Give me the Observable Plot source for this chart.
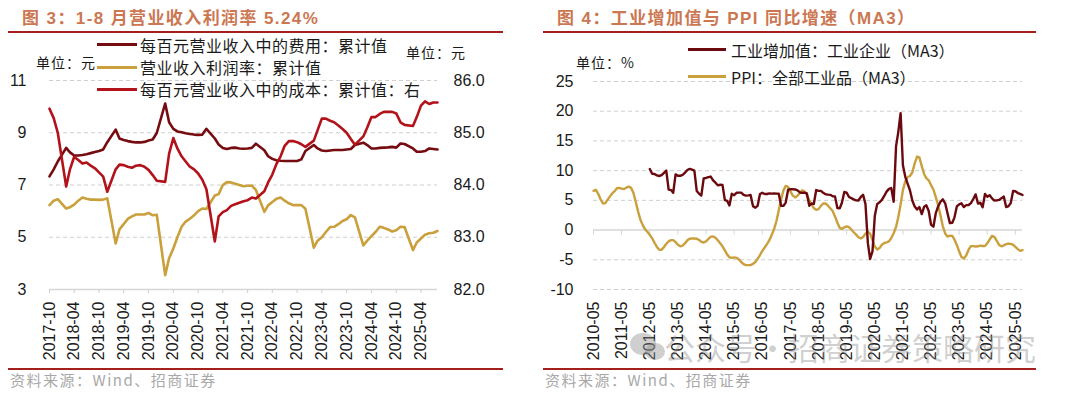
<!DOCTYPE html>
<html>
<head>
<meta charset="utf-8">
<script src="https://cdn.jsdelivr.net/npm/d3@7"></script>
<script src="https://cdn.jsdelivr.net/npm/@observablehq/plot@0.6"></script>
<style>
html,body{margin:0;padding:0;background:#fff;}
#page{position:relative;width:1080px;height:395px;overflow:hidden;background:#fff;}
.a{position:absolute;white-space:nowrap;}
.title{font-family:"Liberation Sans","Noto Sans CJK SC",sans-serif;font-weight:bold;font-size:17px;letter-spacing:1.4px;color:#CB7752;line-height:22px;}
.rule{position:absolute;height:2px;background:#A3201D;}
.leg{font-family:"Noto Sans CJK SC",sans-serif;font-size:16px;line-height:20px;color:#1a1a1a;}
.legL{letter-spacing:0.5px;}
.sw{position:absolute;height:3px;}
.unit{font-family:"Noto Sans CJK SC",sans-serif;font-size:14px;line-height:20px;color:#1a1a1a;letter-spacing:1px;}
.src{font-family:"Noto Sans CJK SC",sans-serif;font-size:15px;line-height:20px;color:#a8a8a8;letter-spacing:1.5px;}
.wm{font-family:"Noto Sans CJK SC",sans-serif;font-size:31px;line-height:40px;color:rgba(140,140,140,0.42);}
.dot{position:absolute;border-radius:50%;background:rgba(140,140,140,0.42);}
</style>
</head>
<body>
<div id="page">
  <div id="chartL" class="a" style="left:0;top:0"></div>
  <div id="chartR" class="a" style="left:540px;top:0"></div>

  <div class="a title" style="left:22px;top:8px">图 3：1-8 月营业收入利润率 5.24%</div>
  <div class="a title" style="left:557px;top:8px">图 4：工业增加值与 PPI 同比增速（MA3）</div>
  <div class="rule" style="left:8px;width:495px;top:31px"></div>
  <div class="rule" style="left:543px;width:493px;top:31px"></div>
  <div class="rule" style="left:8px;width:495px;top:368px"></div>
  <div class="rule" style="left:543px;width:493px;top:368px"></div>

  <div id="legL"></div>
  <div id="legR"></div>

  <div class="a unit" style="left:36px;top:52px">单位：元</div>
  <div class="a unit" style="left:406px;top:42px">单位：元</div>
  <div class="a unit" style="left:576px;top:52px">单位：%</div>

  <div class="a src" style="left:10px;top:370px">资料来源：Wind、招商证券</div>
  <div class="a src" style="left:545px;top:370px">资料来源：Wind、招商证券</div>

  <div class="dot" style="left:630px;top:333px;width:26px;height:22px"></div>
  <div class="dot" style="left:645px;top:343px;width:20px;height:17px"></div>
  <div class="a wm" style="left:664px;top:327px">公众号·招商证券策略研究</div>
</div>
<script>
// ---------- Colors ----------
const cMaroon = "#760B10";
const cRed = "#B2121A";
const cGold = "#C9A03C";
const cIva = "#6A0A0F";

// ---------- Left chart data (cumulative, Jan not published) ----------
const leftStart = "2017-10";
const leftEnd = "2025-08";
const leftTickLabels = ["2017-10","2018-04","2018-10","2019-04","2019-10","2020-04","2020-10","2021-04","2021-10","2022-04","2022-10","2023-04","2023-10","2024-04","2024-10","2025-04"];
const leftYTicks = [3, 5, 7, 9, 11];

const expensePer100 = [
  7.33, 7.60, 7.90,
  8.42, 8.25, 8.13, 8.13, 8.15, 8.18, 8.22, 8.26, 8.30, 8.36, 8.64,
  9.12, 8.78, 8.72, 8.68, 8.65, 8.63, 8.63, 8.65, 8.70, 8.74, 8.99,
  10.12, 9.40, 9.15, 9.05, 9.02, 8.98, 8.95, 8.93, 8.92, 8.93, 9.15,
  8.78, 8.55, 8.42, 8.38, 8.42, 8.43, 8.40, 8.39, 8.40, 8.42, 8.58,
  8.33, 8.10, 8.00, 7.95, 7.93, 7.92, 7.92, 7.92, 7.92, 7.98, 8.30,
  8.53, 8.40, 8.32, 8.30, 8.32, 8.34, 8.34, 8.34, 8.36, 8.38, 8.53,
  8.62, 8.53, 8.40, 8.40, 8.42, 8.43, 8.44, 8.46, 8.43, 8.59, 8.57,
  8.40, 8.27, 8.27, 8.30, 8.40, 8.38, 8.36
];
const profitMargin = [
  6.23, 6.40, 6.46,
  6.10, 6.15, 6.25, 6.40, 6.52, 6.47, 6.44, 6.44, 6.43, 6.44, 6.49,
  4.76, 5.30, 5.50, 5.70, 5.80, 5.87, 5.87, 5.87, 5.93, 5.84, 5.86,
  3.55, 4.20, 4.57, 5.00, 5.40, 5.60, 5.71, 5.84, 6.00, 6.10, 6.08,
  6.60, 6.65, 7.00, 7.11, 7.10, 7.05, 7.00, 6.95, 6.97, 6.98, 6.81,
  5.97, 6.22, 6.35, 6.47, 6.52, 6.40, 6.30, 6.23, 6.23, 6.23, 6.09,
  4.60, 4.87, 5.00, 5.20, 5.39, 5.40, 5.50, 5.62, 5.69, 5.85, 5.76,
  4.69, 4.87, 5.04, 5.20, 5.40, 5.36, 5.30, 5.22, 5.27, 5.40, 5.39,
  4.51, 4.80, 4.95, 5.10, 5.15, 5.17, 5.24
];
const costPer100 = [
  85.46, 85.28, 85.00,
  83.97, 84.30, 84.54, 84.48, 84.41, 84.43, 84.37, 84.32, 84.24, 84.16, 83.87,
  84.30, 84.39, 84.38, 84.35, 84.33, 84.37, 84.38, 84.35, 84.29, 84.19, 84.08,
  84.06, 84.60, 84.90, 84.70, 84.55, 84.45, 84.35, 84.30, 84.22, 84.10, 83.92,
  82.92, 83.40, 83.48, 83.52, 83.60, 83.63, 83.66, 83.69, 83.71, 83.76, 83.74,
  83.88, 84.05, 84.20, 84.40, 84.55, 84.75, 84.84, 84.84, 84.82, 84.78, 84.73,
  84.85, 85.05, 85.27, 85.27, 85.23, 85.20, 85.14, 85.07, 85.00, 84.88, 84.77,
  84.93, 85.10, 85.30, 85.30, 85.36, 85.40, 85.40, 85.40, 85.37, 85.20, 85.15,
  85.13, 85.30, 85.52, 85.60, 85.55, 85.58, 85.58
];

// ---------- Right chart data (MA3, %) ----------
const ppiStart = "2010-05";
const ivaStart = "2012-05";
const rightEnd = "2025-08";
const rightTickLabels = ["2010-05","2011-05","2012-05","2013-05","2014-05","2015-05","2016-05","2017-05","2018-05","2019-05","2020-05","2021-05","2022-05","2023-05","2024-05","2025-05"];
const rightYTicks = [-10, -5, 0, 5, 10, 15, 20, 25];

const ppiMA3 = [
  6.60, 6.77, 6.10, 5.17, 4.47, 4.53, 5.13, 5.67,
  6.20, 6.57, 7.03, 7.10, 6.97, 6.90, 7.13, 7.30, 7.10, 6.27, 4.73, 3.13,
  1.70, 0.80, 0.13, -0.33, -0.80, -1.40, -2.13, -2.83, -3.33, -3.30, -2.87, -2.30,
  -1.90, -1.70, -1.70, -2.03, -2.47, -2.73, -2.63, -2.20, -1.73, -1.47, -1.40, -1.43,
  -1.47, -1.67, -1.97, -2.10, -1.90, -1.50, -1.13, -1.07, -1.30, -1.73, -2.23, -2.73,
  -3.43, -4.13, -4.57, -4.67, -4.60, -4.67, -4.93, -5.37, -5.73, -5.90, -5.90, -5.90,
  -5.70, -5.37, -4.83, -4.20, -3.50, -2.93, -2.37, -1.70, -0.80, 0.17, 1.53, 3.33,
  5.23, 6.73, 7.43, 7.27, 6.50, 5.80, 5.50, 5.77, 6.23, 6.70, 6.53, 5.87,
  5.00, 4.30, 3.70, 3.40, 3.53, 4.07, 4.47, 4.47, 4.10, 3.67, 3.20, 2.30,
  1.23, 0.37, 0.20, 0.47, 0.63, 0.50, 0.10, -0.37, -0.77, -1.20, -1.40, -1.17,
  -0.60, -0.27, -0.60, -1.67, -2.77, -3.27, -3.03, -2.47, -2.17, -2.07, -1.90, -1.33,
  -0.53, 0.53, 2.13, 4.30, 6.73, 8.20, 8.93, 9.10, 9.73, 11.23, 12.37, 12.23,
  10.77, 9.40, 8.73, 8.37, 7.57, 6.83, 5.57, 4.20, 2.47, 0.63, -0.57, -1.10,
  -0.93, -0.97, -1.57, -2.50, -3.57, -4.53, -4.80, -4.27, -3.30, -2.70, -2.70, -2.77,
  -2.73, -2.63, -2.67, -2.67, -2.23, -1.57, -1.00, -1.13, -1.80, -2.50, -2.73, -2.57,
  -2.37, -2.27, -2.33, -2.47, -2.83, -3.20, -3.50, -3.37
];
const ivaMA3 = [
  10.27, 9.47, 9.43, 9.20, 9.10, 9.23, 9.63, 10.00,
  6.80, 6.73, 6.27, 9.37, 9.13, 9.13, 9.27, 9.67, 10.10, 10.30, 10.17, 10.00,
  6.57, 6.10, 5.80, 8.70, 8.77, 8.90, 9.00, 8.37, 7.97, 7.53, 7.63, 7.60,
  5.03, 4.90, 4.13, 6.10, 5.87, 6.27, 6.30, 6.30, 5.93, 5.80, 5.83, 5.90,
  4.03, 3.77, 4.07, 6.07, 6.27, 6.07, 6.07, 6.17, 6.13, 6.17, 6.13, 6.10,
  4.07, 4.10, 4.63, 6.80, 6.87, 6.87, 6.83, 6.67, 6.33, 6.27, 6.30, 6.17,
  4.10, 4.47, 4.40, 6.73, 6.60, 6.60, 6.27, 6.03, 5.97, 5.93, 5.70, 5.67,
  3.70, 3.67, 4.60, 6.40, 6.30, 5.57, 5.37, 5.17, 5.00, 4.97, 5.57, 5.93,
  4.37, -2.20, -4.87, -3.57, 2.40, 4.37, 4.67, 5.07, 5.77, 6.47, 6.93, 7.07,
  4.77, 14.13, 16.40, 19.67, 10.90, 8.97, 7.83, 6.67, 4.93, 3.97, 3.47, 3.87,
  2.70, 3.93, 4.17, 3.20, 0.93, 0.57, 2.80, 3.97, 4.77, 5.17, 4.50, 2.83,
  1.17, 1.23, 2.10, 3.97, 4.33, 4.50, 3.87, 4.20, 4.23, 4.53, 5.23, 6.00,
  4.47, 4.60, 3.83, 6.07, 5.60, 5.87, 5.33, 4.97, 5.00, 5.07, 5.37, 5.63,
  3.87, 4.03, 4.53, 6.57, 6.53, 6.23, 6.10, 5.90
];

// ---------- Build tables ----------
const parseM = d3.utcParse("%Y-%m");
const fmtM = d3.utcFormat("%Y-%m");
const monthsBetween = (a, b) => d3.utcMonth.range(parseM(a), d3.utcMonth.offset(parseM(b), 1));

const leftMonths = monthsBetween(leftStart, leftEnd).filter(d => d.getUTCMonth() !== 0);
// right axis (cost) mapped onto the left scale: 82->3, 86->11
const costToLeft = v => 3 + (v - 82) * 2;
const leftToCost = v => 82 + (v - 3) / 2;
const leftRows = leftMonths.map((d, i) => ({date: d, expense: expensePer100[i], margin: profitMargin[i], cost: costToLeft(costPer100[i])}));

const ppiRows = monthsBetween(ppiStart, rightEnd).map((d, i) => ({date: d, v: ppiMA3[i]}));
const ivaRows = monthsBetween(ivaStart, rightEnd).map((d, i) => ({date: d, v: ivaMA3[i]}));

const leftTicks = leftTickLabels.map(parseM);
const rightTicks = rightTickLabels.map(parseM);

const axisStyle = {fontFamily: "'Liberation Sans', Arial, sans-serif", fontSize: "16px", color: "#1a1a1a", background: "transparent", overflow: "visible"};

// ---------- Left chart ----------
const left = Plot.plot({
  width: 540, height: 370,
  marginLeft: 49, marginRight: 103, marginTop: 80, marginBottom: 81,
  style: axisStyle,
  x: {type: "utc", domain: [parseM(leftStart), parseM(leftEnd)], label: null},
  y: {domain: [3, 11], label: null},
  marks: [
    Plot.gridY([5, 7, 9, 11], {stroke: "#cfcfcf", strokeOpacity: 1, strokeDasharray: "4 3"}),
    Plot.ruleY([3], {stroke: "#d6d6d6", strokeWidth: 1.5}),
    Plot.axisY(leftYTicks, {anchor: "left", tickSize: 0, tickPadding: 23, label: null, fill: "#1a1a1a", tickFormat: d => String(d)}),
    Plot.axisY(leftYTicks, {anchor: "right", tickSize: 0, tickPadding: 16, label: null, fill: "#1a1a1a", tickFormat: d => leftToCost(d).toFixed(1)}),
    Plot.axisX(leftTicks, {anchor: "bottom", tickSize: 4, stroke: "#cfcfcf", fill: "#1a1a1a", tickPadding: 8, tickRotate: -90, label: null, tickFormat: fmtM}),
    Plot.line(leftRows, {x: "date", y: "margin", stroke: cGold, strokeWidth: 2.6}),
    Plot.line(leftRows, {x: "date", y: "expense", stroke: cMaroon, strokeWidth: 2.6}),
    Plot.line(leftRows, {x: "date", y: "cost", stroke: cRed, strokeWidth: 2.6})
  ]
});
document.getElementById("chartL").appendChild(left);

// ---------- Right chart ----------
const right = Plot.plot({
  width: 540, height: 370,
  marginLeft: 53, marginRight: 58, marginTop: 81, marginBottom: 81,
  style: axisStyle,
  x: {type: "utc", domain: [parseM(ppiStart), parseM(rightEnd)], label: null},
  y: {domain: [-10, 25], label: null},
  marks: [
    Plot.gridY([-10, -5, 5, 10, 15, 20, 25], {stroke: "#cfcfcf", strokeOpacity: 1, strokeDasharray: "4 3"}),
    Plot.ruleY([0], {stroke: "#d6d6d6", strokeWidth: 1.5}),
    Plot.ruleX(rightTicks, {x: d => d, y1: 0, y2: -0.85, stroke: "#d6d6d6", strokeWidth: 1}),
    Plot.axisY(rightYTicks, {anchor: "left", tickSize: 0, tickPadding: 20, label: null, fill: "#1a1a1a", tickFormat: d => String(d)}),
    Plot.axisX(rightTicks, {anchor: "bottom", tickSize: 0, fill: "#1a1a1a", tickPadding: 12, tickRotate: -90, label: null, tickFormat: fmtM}),
    Plot.line(ppiRows, {x: "date", y: "v", stroke: cGold, strokeWidth: 2.4}),
    Plot.line(ivaRows, {x: "date", y: "v", stroke: cIva, strokeWidth: 2.4})
  ]
});
document.getElementById("chartR").appendChild(right);

// ---------- Legends ----------
const legendLeft = [
  {label: "每百元营业收入中的费用：累计值", color: cMaroon, cy: 44.5},
  {label: "营业收入利润率：累计值", color: cGold, cy: 67},
  {label: "每百元营业收入中的成本：累计值：右", color: cRed, cy: 89}
];
const legendRight = [
  {label: "工业增加值：工业企业（MA3）", color: cIva, cy: 49.5},
  {label: "PPI：全部工业品（MA3）", color: cGold, cy: 76.5}
];
function drawLegend(id, items, x0, w, tx, cls) {
  const host = document.getElementById(id);
  items.forEach(it => {
    const s = document.createElement("div");
    s.className = "sw";
    s.style.left = x0 + "px"; s.style.width = w + "px";
    s.style.top = (it.cy - 1.5) + "px"; s.style.background = it.color;
    host.appendChild(s);
    const t = document.createElement("div");
    t.className = "a leg " + cls;
    t.style.left = tx + "px"; t.style.top = (it.cy - 10) + "px";
    t.textContent = it.label;
    host.appendChild(t);
  });
}
drawLegend("legL", legendLeft, 97, 40, 140, "legL");
drawLegend("legR", legendRight, 688, 38, 731, "");
</script>
</body>
</html>
